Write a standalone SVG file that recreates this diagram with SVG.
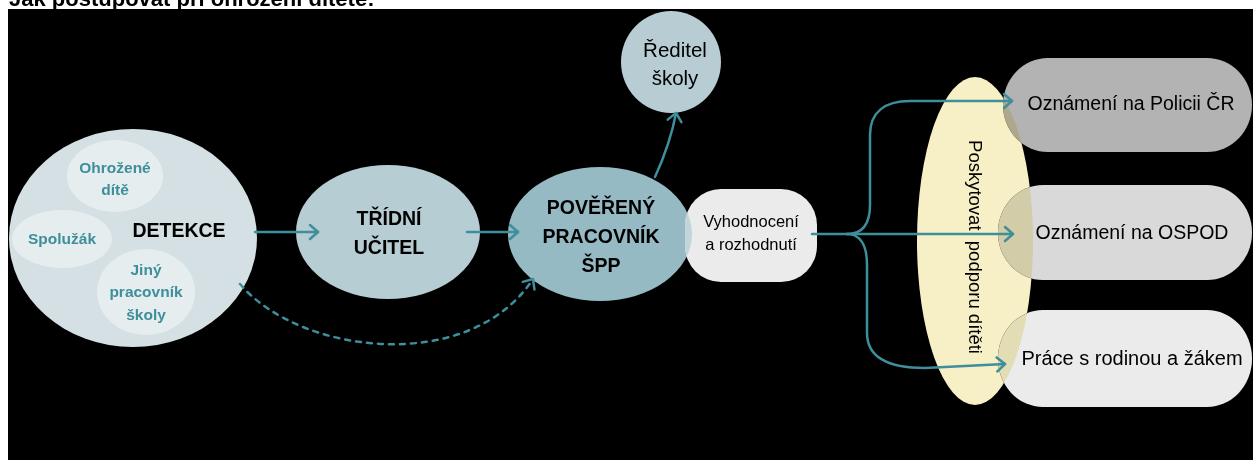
<svg xmlns="http://www.w3.org/2000/svg" width="1253" height="460" viewBox="0 0 1253 460">
<style>
text{font-family:"Liberation Sans","DejaVu Sans",sans-serif;fill:#000}
.cap{font-size:19.5px;font-weight:bold;text-anchor:middle}
.lbl{font-size:16.5px;text-anchor:middle}
.big{font-size:19.5px;text-anchor:middle}
.inner{font-size:15.5px;font-weight:bold;fill:#3e8e9b;text-anchor:middle}
.con{fill:none;stroke:#3e8e9b;stroke-width:2.5;stroke-linecap:round}
</style>
<defs>
<marker id="arr" markerUnits="userSpaceOnUse" markerWidth="20" markerHeight="20" viewBox="-10 -10 20 20" refX="0" refY="0" orient="auto">
<path d="M-8,-7 L0,0 L-8,7" fill="none" stroke="#3e8e9b" stroke-width="2.5" stroke-linecap="round" stroke-linejoin="round"/>
</marker>
<clipPath id="boxclip">
<rect x="1003" y="58" width="249" height="94" rx="45" ry="47"/>
<rect x="998" y="185" width="254" height="95" rx="45" ry="47"/>
<rect x="998" y="310" width="254" height="97" rx="45" ry="48"/>
</clipPath>
<mask id="nobox">
<rect x="0" y="0" width="1253" height="460" fill="#fff"/>
<rect x="1003" y="58" width="249" height="94" rx="45" ry="47" fill="#000"/>
<rect x="998" y="185" width="254" height="95" rx="45" ry="47" fill="#000"/>
<rect x="998" y="310" width="254" height="97" rx="45" ry="48" fill="#000"/>
</mask>
<clipPath id="vyhclip"><rect x="685" y="189" width="132" height="93" rx="36"/></clipPath>
</defs>
<rect x="0" y="0" width="1253" height="460" fill="#fff"/>
<rect x="8" y="9" width="1245" height="451" fill="#000"/>
<text x="9" y="6" style="font-size:22px;font-weight:bold">Jak postupovat při ohrožení dítěte:</text>

<g id="detekce">
<ellipse cx="133" cy="238" rx="124" ry="109" fill="#d4e0e4"/>
<text x="179" y="237" class="cap">DETEKCE</text>
</g>
<g id="ohrozene-dite">
<ellipse cx="115" cy="176" rx="48" ry="36" fill="#e6edef"/>
<text x="115" y="173" class="inner">Ohrožené</text>
<text x="115" y="195" class="inner">dítě</text>
</g>
<g id="spoluzak">
<ellipse cx="62" cy="239" rx="50" ry="29" fill="#e6edef"/>
<text x="62" y="244" class="inner">Spolužák</text>
</g>
<g id="jiny-pracovnik">
<ellipse cx="146" cy="292" rx="49" ry="43" fill="#e6edef"/>
<text x="146" y="275" class="inner">Jiný</text>
<text x="146" y="297" class="inner">pracovník</text>
<text x="146" y="320" class="inner">školy</text>
</g>
<g id="tridni-ucitel">
<ellipse cx="388" cy="232" rx="92" ry="67" fill="#b7cdd4"/>
<text x="389" y="225" class="cap">TŘÍDNÍ</text>
<text x="389" y="254" class="cap">UČITEL</text>
</g>
<g id="povereny-pracovnik">
<ellipse cx="600" cy="234" rx="92" ry="67" fill="#95bac4"/>
<text x="601" y="214" class="cap">POVĚŘENÝ</text>
<text x="601" y="243" class="cap">PRACOVNÍK</text>
<text x="601" y="272" class="cap">ŠPP</text>
</g>
<g id="reditel">
<ellipse cx="671" cy="62" rx="50" ry="51" fill="#b7ccd3"/>
<text x="675" y="57" class="big" style="font-size:20.5px">Ředitel</text>
<text x="675" y="85" class="big" style="font-size:20.5px">školy</text>
</g>
<g id="vyhodnoceni">
<rect x="685" y="189" width="132" height="93" rx="36" fill="#ebebeb"/>
<ellipse cx="600" cy="234" rx="92" ry="67" fill="#c2d5da" clip-path="url(#vyhclip)"/>
<text x="751" y="227" class="lbl">Vyhodnocení</text>
<text x="751" y="250" class="lbl">a rozhodnutí</text>
</g>
<g id="policie">
<rect x="1003" y="58" width="249" height="94" rx="45" ry="47" fill="#b3b3b3"/>
<text x="1131" y="110" class="big">Oznámení na Policii ČR</text>
</g>
<g id="ospod">
<rect x="998" y="185" width="254" height="95" rx="45" ry="47" fill="#d9d9d9"/>
<text x="1132" y="239" class="big">Oznámení na OSPOD</text>
</g>
<g id="prace">
<rect x="998" y="310" width="254" height="97" rx="45" ry="48" fill="#ebebeb"/>
<text x="1132" y="365" class="big" style="font-size:20px">Práce s rodinou a žákem</text>
</g>
<g id="podpora">
<ellipse cx="975" cy="241" rx="58" ry="164" fill="#f7f0c6" mask="url(#nobox)"/>
<ellipse cx="975" cy="241" rx="58" ry="164" fill="#f7f0c6" clip-path="url(#boxclip)" style="mix-blend-mode:multiply"/>
<text transform="translate(975,247) rotate(90)" x="0" y="6" class="lbl" style="font-size:18.5px;white-space:pre" xml:space="preserve">Poskytovat  podporu dítěti</text>
</g>

<g id="connectors">
<path class="con" d="M255,232 L318,232" marker-end="url(#arr)"/>
<path class="con" d="M467,232 L518,232" marker-end="url(#arr)"/>
<path class="con" d="M655,177 C665,155 672,135 676,113" marker-end="url(#arr)"/>
<path class="con" d="M240,284 C300,355 470,375 533,279" stroke-dasharray="5 6" marker-end="url(#arr)"/>
<path class="con" d="M812,234 L1013,234" marker-end="url(#arr)"/>
<path class="con" d="M847,234 C862,234 870,225 870,205 L870,135 C870,112 885,101 910,101 L1012,101" marker-end="url(#arr)"/>
<path class="con" d="M847,234 C860,234 867,245 867,265 L867,333 C867,355 885,368 925,368 L1005,364" marker-end="url(#arr)"/>
</g>
</svg>
